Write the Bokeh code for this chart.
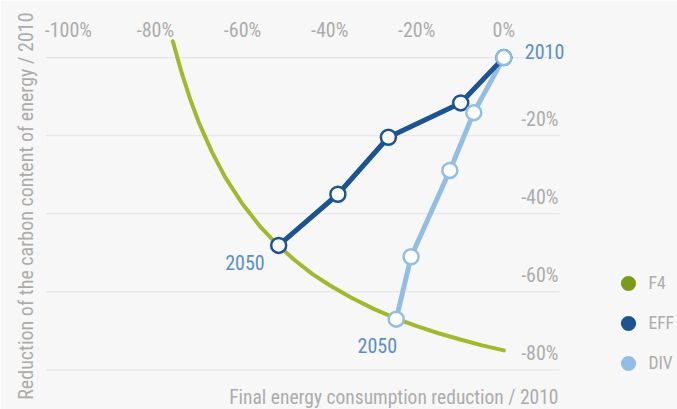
from bokeh.plotting import figure
from bokeh.models import FixedTicker, Legend, LegendItem, Title
from bokeh.core.properties import value
from bokeh.embed import file_html
from bokeh.resources import INLINE

# ---------------- data ----------------
f4_x = [-76, -74, -72, -70, -67, -64, -60, -56, -52, -48, -44, -40, -35, -30, -25, -20, -15, -10, -5, 0]
f4_y = [4.2, -3.8, -10.7, -16.7, -24.2, -30.6, -37.5, -43.2, -47.9, -51.9, -55.4, -58.3, -61.5, -64.3,
        -66.7, -68.8, -70.6, -72.2, -73.7, -75.0]

eff_x = [0, -9.9, -26.5, -38.1, -51.7]
eff_y = [0, -11.6, -20.4, -35.0, -48.1]

div_x = [0, -6.9, -12.4, -21.3, -24.7]
div_y = [0, -14.1, -28.9, -51.0, -67.0]

series_names = ["F4", "EFF", "DIV"]

xtick_vals = [-100, -80, -60, -40, -20, 0]
xtick_labels = ["-100%", "-80%", "-60%", "-40%", "-20%", "0%"]
ygrid_vals = [0, -20, -40, -60, -80]
ytick_vals = [-20, -40, -60, -80]
ytick_labels = ["-20%", "-40%", "-60%", "-80%"]

x_title = "Final energy consumption reduction / 2010"
y_title = "Reduction of the carbon content of energy / 2010"

# ---------------- layout / style ----------------
X_START, X_END = -105.24, 39.88     # frame extends under the legend area
GRID_END = 12.79                    # where the plot area (grid lines, y labels) ends
Y_START, Y_END = -83.22, 5.41

FONT = "'Liberation Sans Narrow', 'Roboto Condensed', Roboto, sans-serif"
GREY = "#acacac"
BG = "#f7f7f7"
C_F4_LINE = "#a3b82c"
C_F4_DOT = "#7b9a1b"
C_EFF = "#1c5393"
C_DIV = "#93bee4"
C_YEAR = "#5b8ec9"

p = figure(width=677, height=409, x_range=(X_START, X_END), y_range=(Y_START, Y_END),
           x_axis_location="above", y_axis_location=None,
           output_backend="svg", toolbar_location=None,
           background_fill_color=BG, border_fill_color=BG, outline_line_color=None,
           min_border_left=45, min_border_right=0, min_border_top=36, min_border_bottom=24)

# top axis
ax = p.xaxis[0]
ax.ticker = FixedTicker(ticks=xtick_vals)
ax.major_label_overrides = {v: s for v, s in zip(xtick_vals, xtick_labels)}
ax.axis_line_color = None
ax.major_tick_line_color = None
ax.minor_tick_line_color = None
ax.major_label_standoff = -11
ax.major_label_text_font = FONT
ax.major_label_text_font_size = "20px"
ax.major_label_text_color = GREY
p.xgrid.visible = False
p.ygrid.visible = False

# horizontal grid lines, limited to the plot area
p.segment(x0=[X_START] * len(ygrid_vals), x1=[GRID_END] * len(ygrid_vals),
          y0=ygrid_vals, y1=ygrid_vals, line_color="#e3e3e3", line_width=1, level="underlay")

# y tick labels (drawn above their grid lines, right side)
p.text(x=[GRID_END] * len(ytick_vals), y=ytick_vals, text=ytick_labels,
       text_font=value(FONT), text_font_size="20px", text_color=GREY,
       text_align="right", text_baseline="middle", x_offset=-1, y_offset=-17)

# legend swatch renderers: tiny dots hidden beneath each series' line / markers
leg_f4 = p.scatter(f4_x, f4_y, size=2, fill_color=C_F4_DOT, line_color=None)
leg_eff = p.scatter(eff_x, eff_y, size=2, fill_color=C_EFF, line_color=None)
leg_div = p.scatter(div_x, div_y, size=2, fill_color=C_DIV, line_color=None)

# series
p.line(f4_x, f4_y, line_color=C_F4_LINE, line_width=4, line_cap="round")
p.line(div_x, div_y, line_color=C_DIV, line_width=5, line_join="round")
p.line(eff_x, eff_y, line_color=C_EFF, line_width=5, line_join="round")
p.scatter(eff_x, eff_y, size=15, fill_color="white", line_color=C_EFF, line_width=2.5)
p.scatter(div_x, div_y, size=15, fill_color="white", line_color=C_DIV, line_width=2.5)

# year labels
year_kw = dict(text_font=value(FONT), text_font_size="20px", text_color=C_YEAR, text_baseline="middle")
p.text(x=[eff_x[0]], y=[eff_y[0]], text=["2010"], text_align="left", x_offset=21, y_offset=-6, **year_kw)
p.text(x=[eff_x[-1]], y=[eff_y[-1]], text=["2050"], text_align="right", x_offset=-14, y_offset=17, **year_kw)
p.text(x=[div_x[-1]], y=[div_y[-1]], text=["2050"], text_align="center", x_offset=-19, y_offset=26, **year_kw)

# legend
items = [LegendItem(label=n, renderers=[r]) for n, r in zip(series_names, [leg_f4, leg_eff, leg_div])]
legend = Legend(items=items, location=(563.5, 0), orientation="vertical",
                border_line_color=None, background_fill_alpha=0,
                glyph_width=38, glyph_height=38, spacing=2, padding=0, margin=0,
                label_standoff=2, label_text_font=FONT, label_text_font_size="17.5px",
                label_text_color=GREY)
p.add_layout(legend, "center")

# axis titles
p.add_layout(Title(text=x_title, align="right", vertical_align="bottom", offset=119, standoff=2,
                   text_font=FONT, text_font_size="19.5px", text_font_style="normal",
                   text_color=GREY), "below")
p.add_layout(Title(text=y_title, align="right", vertical_align="middle", offset=-24, standoff=14,
                   text_font=FONT, text_font_size="20px", text_font_style="normal",
                   text_color=GREY), "left")

open("out.html", "w").write(file_html(p, INLINE))
